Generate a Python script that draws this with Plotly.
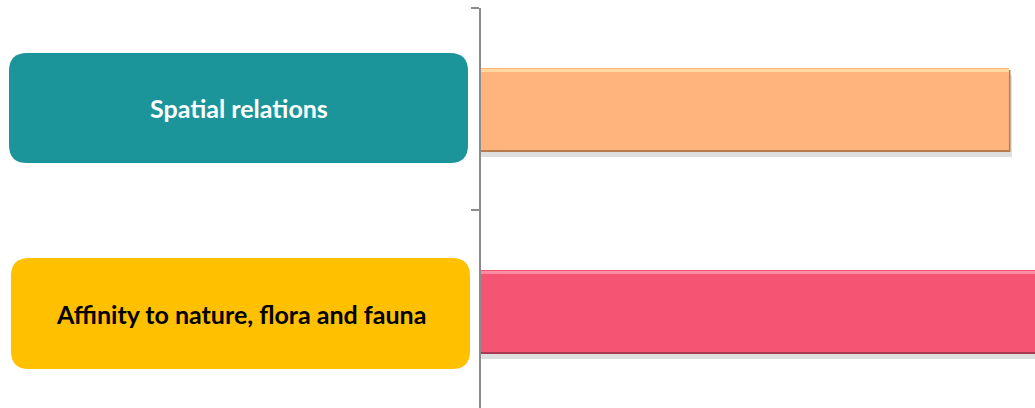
import plotly.graph_objects as go

categories = ["Spatial relations", "Affinity to nature, flora and fauna"]
values = [95.3, 104.0]
bar_colors = ["#FFB47D", "#F55473"]
edge_colors = ["#B57A4E", "#A63A50"]
hi_colors = ["#FFD9A0", "#FF8CA3"]
label_fill = ["#1B9599", "#FFC000"]
label_font = ["#FFFFFF", "#000000"]

W, H = 1035, 408
ML, MT = 481, 8
plot_w, plot_h = W - ML, H - MT
px_per_cat = 202.0
bw = 82 / px_per_cat
xmax = 100.0
px_x = xmax / plot_w

fig = go.Figure()
# drop shadow
fig.add_trace(go.Bar(y=categories, x=[v + 3 * px_x for v in values], orientation="h",
                     width=bw, offset=-bw / 2 + 7 / px_per_cat,
                     marker=dict(color="rgba(0,0,0,0.13)", line=dict(width=0)),
                     hoverinfo="skip", showlegend=False))
# darker bevel edge
fig.add_trace(go.Bar(y=categories, x=[v + 1.5 * px_x for v in values], orientation="h",
                     width=bw, offset=-bw / 2 + 2 / px_per_cat,
                     marker=dict(color=edge_colors, line=dict(width=0)),
                     hoverinfo="skip", showlegend=False))
# main bar
fig.add_trace(go.Bar(y=categories, x=values, orientation="h",
                     width=bw, offset=-bw / 2,
                     marker=dict(color=bar_colors, line=dict(width=0)),
                     showlegend=False))
# top highlight
fig.add_trace(go.Bar(y=categories, x=values, orientation="h",
                     width=3 / px_per_cat, offset=-bw / 2 + 1 / px_per_cat,
                     marker=dict(color=hi_colors, line=dict(width=0)),
                     hoverinfo="skip", showlegend=False))

shapes = []
annotations = []
boxes = [(238.5, -1.0, 459, 110), (240.5, 2.5, 459, 111)]
for i, (cat, (cx, dy, bwid, bh)) in enumerate(zip(categories, boxes)):
    hw, hh, r = bwid / 2, bh / 2, 18
    path = (f"M {-hw + r},{-hh} L {hw - r},{-hh} Q {hw},{-hh} {hw},{-hh + r} "
            f"L {hw},{hh - r} Q {hw},{hh} {hw - r},{hh} L {-hw + r},{hh} "
            f"Q {-hw},{hh} {-hw},{hh - r} L {-hw},{-hh + r} Q {-hw},{-hh} {-hw + r},{-hh} Z")
    shapes.append(dict(type="path", path=path, xsizemode="pixel", ysizemode="pixel",
                       xref="paper", yref="y",
                       xanchor=(cx - ML) / plot_w, yanchor=i + dy / px_per_cat,
                       fillcolor=label_fill[i], line=dict(width=0), layer="above"))
    annotations.append(dict(text=cat, xref="paper", yref="y",
                            x=(cx - ML) / plot_w, y=i + dy / px_per_cat,
                            showarrow=False, xanchor="center", yanchor="middle",
                            font=dict(family="Lato", size=25, weight="bold",
                                      color=label_font[i])))

top_val = -0.5
bot_val = top_val + plot_h / px_per_cat

fig.update_layout(
    width=W, height=H,
    margin=dict(l=ML, r=0, t=MT, b=0, pad=0),
    paper_bgcolor="white", plot_bgcolor="white",
    barmode="overlay",
    showlegend=False,
    xaxis=dict(range=[0, xmax], visible=False, showgrid=False, zeroline=False),
    yaxis=dict(type="category", categoryorder="array", categoryarray=categories,
               range=[bot_val, top_val], autorange=False,
               showline=True, linecolor="#8C8C8C", linewidth=1.5,
               ticks="outside", ticklen=8, tickwidth=1.5, tickcolor="#8C8C8C",
               tickson="boundaries", showticklabels=False, showgrid=False,
               zeroline=False),
    shapes=shapes,
    annotations=annotations,
)

fig.write_html(
    "out.html",
    config={"displayModeBar": False},
    post_script="document.body.style.margin='0';document.body.style.overflow='hidden';",
)
